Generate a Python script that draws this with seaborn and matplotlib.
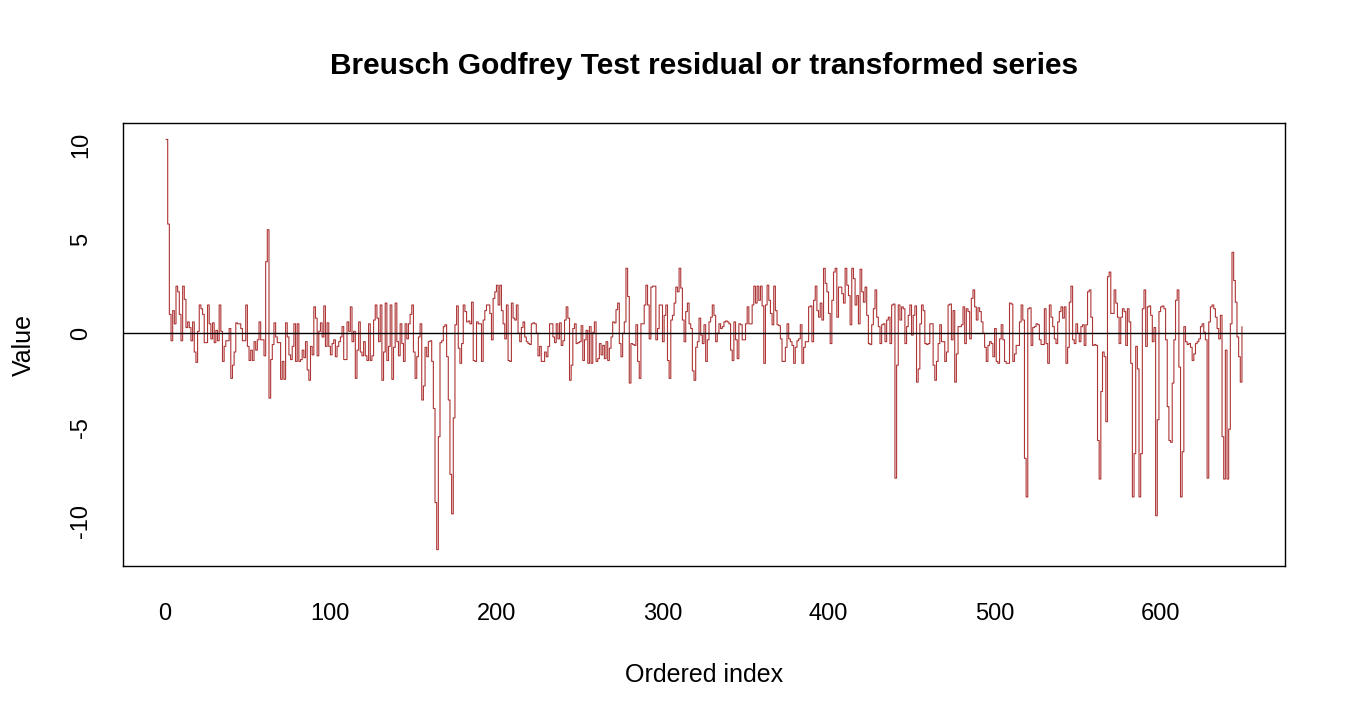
import numpy as np
import pandas as pd
import matplotlib
matplotlib.use("Agg")
import matplotlib.pyplot as plt
import seaborn as sns

# ------------------------------
# Data
# ------------------------------

resid_001_120 = [
    10.3, 5.8, 1.0, -0.4, 1.2, 0.5, 2.5, 2.2, 1.0, -0.4,
    2.5, 1.8, 0.3, 0.6, 0.3, -0.4, 0.6, -1.0, -1.55, 0.1,
    1.5, 1.3, 1.0, -0.5, -0.5, 1.5, 0.5, -0.3, 0.55, -0.5,
    0.15, -0.4, 1.5, 0.1, -1.5, -0.7, -0.4, -0.4, 0.25, -2.4,
    -1.7, -1.0, 0.55, 0.5, 0.5, 0.25, -0.4, -0.4, 1.5, -0.7,
    -1.45, -0.9, -1.45, -0.45, -0.9, -0.35, 0.6, -0.35, -0.35, -1.2,
    3.8, 5.5, -3.45, -1.4, -0.6, 0.55, -0.2, -0.5, -0.5, -2.45,
    -1.5, -2.45, 0.55, -0.2, -1.15, -1.4, -0.7, 0.5, -1.5, 0.5,
    -1.5, -1.4, -0.9, -1.3, -0.45, -1.95, -2.5, -0.7, -1.15, 1.4,
    0.8, -1.2, 0.1, 0.55, -0.2, 1.45, -0.7, 0.55, -0.7, -1.15,
    -0.55, -0.35, -1.25, -0.7, -0.45, -0.2, 0.35, -1.4, -1.4, 0.6,
    0.1, 1.4, -0.45, 0.1, -2.4, -0.9, 0.6, -1.0, -1.2, -0.45,
]

resid_121_240 = [
    -1.2, -1.45, 0.5, -1.45, -1.2, 0.7, 1.5, 0.8, -0.45, 1.5,
    -2.5, -1.0, 1.6, -1.45, -0.7, 1.5, -2.45, -0.75, 1.6, -0.45,
    -1.2, 0.5, -0.55, -1.5, 0.5, -0.3, 0.5, 1.0, 1.5, -1.0,
    -2.4, -1.25, -0.2, 0.5, -3.55, -2.8, -0.75, -1.25, -0.45, -0.4,
    -1.5, -4.0, -9.0, -11.5, -5.5, -0.5, -0.4, 0.35, 0.45, -1.25,
    -3.55, -7.5, -9.6, -4.5, 0.45, 1.45, -0.8, -1.6, -0.55, 1.5,
    1.15, 0.6, 0.65, 0.5, 1.65, -1.45, -1.5, 0.6, 0.5, 0.5,
    -1.5, 0.7, 1.2, 1.5, 1.5, 1.05, -0.35, 1.85, 2.2, 2.55,
    1.5, 2.55, 1.2, 0.5, -0.3, 1.5, -1.45, -1.5, 1.6, 0.8,
    0.7, 1.5, 0.0, -0.45, 0.3, 0.6, -0.2, -0.45, -0.55, -0.6,
    0.5, 0.55, 0.5, 0.0, -1.2, -0.7, -1.5, -1.5, -1.0, -1.25,
    -0.7, 0.5, 0.5, -0.2, -0.5, 0.5, -0.3, 0.55, -0.65, -0.4,
]

resid_241_360 = [
    0.7, 1.4, 0.8, -2.5, -1.7, 0.25, 0.5, -0.55, -0.5, -0.45,
    0.4, -1.45, -0.35, 0.15, -1.6, 0.35, -1.6, 0.05, 0.6, -1.5,
    -1.35, -0.55, -1.15, -0.65, -1.35, -0.45, -1.45, -0.8, -0.2, 0.6,
    0.55, 1.25, 1.6, -0.55, -1.25, 0.0, 0.6, 3.45, 1.95, -2.65,
    -0.55, -0.6, -0.65, 0.45, -1.5, -2.4, 0.5, 0.5, 1.5, 2.55,
    1.5, -0.3, 2.45, 2.5, 2.5, -0.35, 0.25, 1.5, 1.5, -0.45,
    0.95, 1.5, -1.45, -2.4, 0.7, 0.95, 1.6, 2.45, 2.2, 3.45,
    2.4, 0.7, -0.45, 1.15, 1.6, 0.5, 0.25, -2.0, -2.5, -0.75,
    -0.45, 0.8, -0.1, -0.55, 0.45, -1.5, -0.35, 0.6, 0.85, 1.5,
    0.95, -0.45, 0.0, 0.5, 0.25, 0.35, 0.6, 0.65, 0.6, 0.5,
    -0.9, -1.45, 0.6, -0.35, -1.35, 0.5, 0.45, -0.35, -0.35, 0.5,
    1.4, 0.5, 0.5, 1.5, 2.5, 1.6, 2.5, 1.75, 2.5, 1.45,
]

resid_361_480 = [
    -1.6, 1.5, 2.55, 1.75, 1.05, 0.45, 2.5, 1.2, 0.45, 0.4,
    -0.3, -1.5, -1.5, -0.75, 0.5, -0.3, -0.45, -0.65, -1.6, -0.75,
    -0.4, -0.3, 0.45, -1.6, -0.75, -0.45, -0.45, 1.4, 1.45, -0.45,
    1.75, 2.5, 1.2, 0.85, 1.6, 0.7, 3.45, 2.65, 2.2, 1.05,
    -0.55, 1.75, 3.25, 3.45, 0.85, 2.45, 2.45, 2.1, 1.6, 3.45,
    2.55, 2.0, 0.45, 3.45, 2.9, 1.5, 2.0, 0.5, 3.4, 2.2,
    1.65, 2.45, 0.95, -0.55, -0.6, 0.45, 1.3, 2.3, 0.85, 0.35,
    -0.55, 0.45, 0.5, -0.45, 0.7, 0.85, -0.55, 1.5, 1.55, -7.7,
    -1.7, 1.5, 0.7, 1.4, 1.3, -0.55, 0.35, 0.95, 1.5, -0.1,
    0.95, 1.45, -2.6, -1.9, 0.5, 1.5, 1.2, -0.55, -0.6, -0.55,
    0.5, 0.5, -1.7, -2.5, -1.5, -0.55, 0.45, -0.45, -0.45, -1.5,
    -1.0, 1.5, 1.55, -0.35, 1.2, -2.6, -1.1, 0.35, 0.35, 0.45,
]

resid_481_600 = [
    1.4, -0.55, 1.3, 1.15, -0.3, 1.85, 2.3, 1.4, 0.7, 1.35,
    1.15, 0.6, 0.0, -0.75, -1.5, -0.65, -0.45, -0.55, -1.25, 0.25,
    -1.5, -1.6, -0.3, 0.45, -0.35, -1.5, -1.6, -1.6, 1.6, 1.55,
    -1.5, -1.1, -0.65, -0.65, 0.6, 1.5, 0.7, -6.65, -8.7, 1.3,
    1.35, -0.65, 0.3, 0.35, 0.5, 0.45, -0.35, -0.6, -0.6, 1.3,
    -0.55, -1.6, 1.5, 0.85, 0.35, -0.3, -0.55, 0.6, 1.15, 1.4,
    0.8, 1.4, -1.6, -0.75, 1.65, 2.5, -0.35, -0.55, 0.5, 0.0,
    -0.45, 0.35, 0.45, -0.65, 0.45, 2.2, 2.3, 0.85, -0.65, -0.6,
    -0.65, -5.7, -7.75, -3.1, -1.0, -1.25, -4.7, 3.0, 3.25, 1.05,
    1.05, 2.3, 1.6, 0.85, -0.55, 0.85, 1.3, 1.15, -0.65, 1.3,
    0.6, -1.6, -8.7, -6.4, -0.7, -1.9, -8.7, -6.4, 1.3, 2.3,
    -0.7, 1.4, 1.45, 0.95, -0.45, 0.3, -9.7, -4.6, 1.15, 1.4,
]

resid_601_649 = [
    1.45, 1.3, -0.35, -3.9, -5.7, -5.8, -2.65, -0.35, 1.75, 2.3,
    -1.8, -8.7, -6.3, 0.35, -0.45, -0.6, -0.55, -0.75, -1.45, -1.1,
    -0.55, -0.45, -0.3, 0.35, 0.5, 0.05, -0.35, -7.7, 0.6, 1.4,
    1.5, 1.3, 0.85, 0.25, -0.3, 0.95, -5.5, -7.75, -0.9, -7.75,
    -5.1, 0.5, 4.3, 2.8, 1.65, -0.2, -1.25, -2.6, 0.35,
]

x_ticks = [0, 100, 200, 300, 400, 500, 600]
y_ticks = [-10, -5, 0, 5, 10]

values = (resid_001_120 + resid_121_240 + resid_241_360
          + resid_361_480 + resid_481_600 + resid_601_649)
df = pd.DataFrame({"index": np.arange(1, len(values) + 1), "value": values})

# ------------------------------
# Plot
# ------------------------------

sns.set_style("white")
plt.rcParams["font.family"] = ["Liberation Sans", "DejaVu Sans"]
plt.rcParams["text.color"] = "black"
plt.rcParams["axes.labelcolor"] = "black"

fig = plt.figure(figsize=(13.5, 7.2), dpi=100)
ax = fig.add_axes([123 / 1350, 1 - 566 / 720, (1285 - 123) / 1350, (566 - 123) / 720])

sns.lineplot(data=df, x="index", y="value", ax=ax, estimator=None,
             drawstyle="steps-post", color="#AE3535", linewidth=0.8)
ax.axhline(0, color="black", linewidth=1.0, zorder=3)

# R style axis limits (4% padding)
n = len(values)
xpad = 0.04 * (n - 1)
ax.set_xlim(1 - xpad, n + xpad)
lo, hi = min(values), max(values)
ypad = 0.04 * (hi - lo)
ax.set_ylim(lo - ypad, hi + ypad)

ax.set_xticks(x_ticks)
ax.set_yticks(y_ticks)
ax.set_yticklabels([str(v) for v in y_ticks], rotation=90, va="center")
ax.tick_params(axis="both", direction="out", length=11, width=1.0,
               color="black", labelsize=17, labelcolor="black")
ax.tick_params(axis="x", pad=16)
ax.tick_params(axis="y", pad=11)

for sp in ax.spines.values():
    sp.set_visible(True)
    sp.set_color("black")
    sp.set_linewidth(1.0)

ax.set_xlabel("Ordered index", fontsize=18, labelpad=27)
ax.set_ylabel("Value", fontsize=18, labelpad=25)
ax.set_title("Breusch Godfrey Test residual or transformed series",
             fontsize=21.5, fontweight="bold", color="black", pad=35)

plt.savefig("out.png", dpi=100)
